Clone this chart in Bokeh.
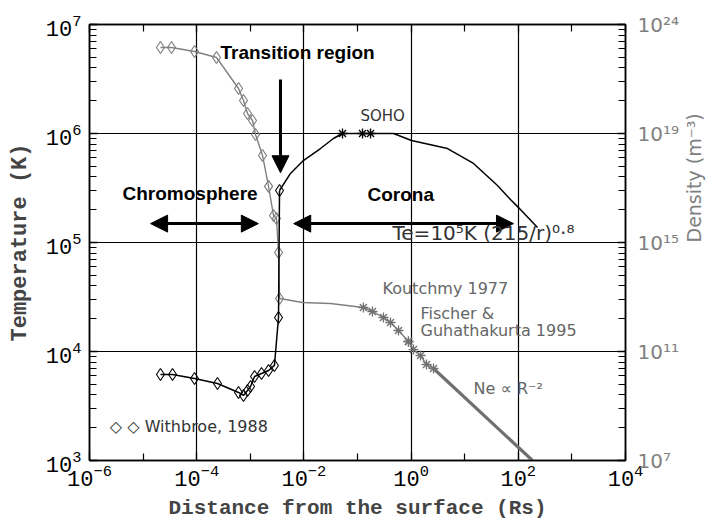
import math
from bokeh.plotting import figure
from bokeh.models import (LogAxis, Range1d, FixedTicker, Label, Arrow, NormalHead, LogScale)
from bokeh.embed import file_html
from bokeh.resources import INLINE

# ---------------- data ----------------
# Withbroe 1988 temperature (diamonds, black)
withbroe_T_r = [2.11e-5, 3.54e-5, 9.1e-5, 2.44e-4, 6.03e-4, 7.46e-4, 8.87e-4, 1.01e-3,
                1.20e-3, 1.62e-3, 2.19e-3, 2.82e-3, 3.36e-3, 3.51e-3]
withbroe_T = [6150, 6150, 5650, 5080, 4210, 3950, 4390, 4780,
              5900, 6280, 6700, 7450, 2.05e4, 3.0e5]
# coronal temperature model Te = 1e5 K (215/r)^0.8 and SOHO
corona_T_r = [3.51e-3, 5.62e-3, 9.77e-3, 0.0204, 0.0355, 0.0525, 0.124, 0.175,
              0.47, 1.02, 4.78, 14.6, 40.9, 71.4, 101, 228]
corona_T = [3.0e5, 4.3e5, 5.65e5, 7.28e5, 9.0e5, 1.0e6, 1.0e6, 1.0e6,
            1.0e6, 8.63e5, 7.28e5, 5.31e5, 3.33e5, 2.48e5, 2.09e5, 1.37e5]
soho_r = [0.0525, 0.124, 0.175]
soho_T = [1.0e6, 1.0e6, 1.0e6]

# Withbroe 1988 density (diamonds, grey), m^-3
withbroe_n_r = [2.11e-5, 3.39e-5, 9.1e-5, 2.34e-4, 6.03e-4, 7.46e-4, 8.87e-4, 1.10e-3,
                1.25e-3, 1.69e-3, 2.19e-3, 2.71e-3, 3.08e-3, 3.36e-3, 3.51e-3]
withbroe_n = [1.43e22, 1.43e22, 1.02e22, 6.15e21, 4.48e20, 1.63e20, 5.42e19, 3.0e19,
              9.2e18, 1.56e18, 1.14e17, 9.8e15, 7.6e15, 4.3e14, 8.8e12]
# coronal density
corona_n_r = [3.51e-3, 9.42e-3, 0.0313, 0.129]
corona_n = [8.8e12, 6.28e12, 5.77e12, 4.12e12]
koutchmy_r = [0.129, 0.19, 0.305, 0.413, 0.582, 0.893]
koutchmy_n = [4.12e12, 2.94e12, 1.77e12, 1.16e12, 5.9e11, 2.33e11]
fischer_r = [0.893, 1.11, 1.50, 1.94, 2.62]
fischer_n = [2.33e11, 1.18e11, 7.13e10, 3.33e10, 2.38e10]
ne_r2_r = [2.62, 184]
ne_r2_n = [2.38e10, 1.0e7]

x_ticks = [1e-6, 1e-4, 1e-2, 1, 1e2, 1e4]
x_minor = [1e-5, 1e-3, 1e-1, 1e1, 1e3]
y_ticks = [1e3, 1e4, 1e5, 1e6, 1e7]
y_minor = [k * 10.0 ** d for d in range(3, 7) for k in range(2, 10)]
dens_ticks = [1e7, 1e11, 1e15, 1e19, 1e23]
dens_labels = ["10\u2077", "10\u00b9\u00b9", "10\u00b9\u2075", "10\u00b9\u2079", "10\u00b2\u2074"]

MONO = "Liberation Mono"
SANS = "Liberation Sans"
GREY = "#808080"

p = figure(width=722, height=522, x_axis_type="log", y_axis_type="log",
           x_range=Range1d(1e-6, 1e4), y_range=Range1d(1e3, 1e7),
           output_backend="svg", toolbar_location=None,
           min_border_left=89, min_border_right=97, min_border_top=24, min_border_bottom=62)
p.extra_y_ranges = {"dens": Range1d(1e7, 1e23)}
p.extra_y_scales = {"dens": LogScale()}

p.outline_line_color = "black"
p.outline_line_width = 1.5
p.background_fill_color = "white"

# grids
p.xgrid.ticker = FixedTicker(ticks=[1e-4, 1e-2, 1, 1e2])
p.ygrid.ticker = FixedTicker(ticks=[1e4, 1e5, 1e6])
p.grid.grid_line_color = "black"
p.grid.grid_line_width = 1.2
p.grid.grid_line_alpha = 1.0

def style_ticks(ax):
    ax.major_tick_in = 8
    ax.major_tick_out = 0
    ax.minor_tick_in = 7
    ax.minor_tick_out = 0
    ax.axis_line_color = "black"
    ax.axis_line_width = 1.5
    ax.major_tick_line_width = 1.3
    ax.minor_tick_line_width = 1.2

def hide_labels(ax):
    ax.major_label_text_font_size = "2px"
    ax.major_label_text_alpha = 0.0
    ax.major_label_standoff = 0

# bottom axis
xa = p.xaxis[0]
xa.ticker = FixedTicker(ticks=x_ticks, minor_ticks=x_minor)
style_ticks(xa)
xa.major_label_text_font = MONO
xa.major_label_text_font_size = "22px"
xa.major_label_text_color = "black"
xa.major_label_standoff = 3
xa.axis_label = "Distance from the surface (Rs)"
xa.axis_label_text_font = MONO
xa.axis_label_text_font_style = "bold"
xa.axis_label_text_font_size = "21px"
xa.axis_label_standoff = 8

# left axis
ya = p.yaxis[0]
ya.ticker = FixedTicker(ticks=y_ticks, minor_ticks=y_minor)
style_ticks(ya)
ya.major_label_text_font = MONO
ya.major_label_text_font_size = "22px"
ya.major_label_text_color = "black"
ya.major_label_standoff = 8
ya.axis_label = "Temperature (K)"
ya.axis_label_text_font = MONO
ya.axis_label_text_font_style = "bold"
ya.axis_label_text_font_size = "22px"
ya.axis_label_standoff = 10

# top axis (ticks only)
top = LogAxis(ticker=FixedTicker(ticks=x_ticks, minor_ticks=x_minor))
style_ticks(top)
hide_labels(top)
p.add_layout(top, "above")

# right axis with temperature ticks (no labels)
r1 = LogAxis(ticker=FixedTicker(ticks=y_ticks, minor_ticks=y_minor))
style_ticks(r1)
hide_labels(r1)
p.add_layout(r1, "right")

# right density axis (labels only)
r2 = LogAxis(y_range_name="dens", ticker=FixedTicker(ticks=dens_ticks),
             major_label_overrides=dict(zip(dens_ticks, dens_labels)))
r2.axis_line_color = None
r2.major_tick_in = 0
r2.major_tick_out = 0
r2.minor_tick_in = 0
r2.minor_tick_out = 0
r2.major_label_text_font = "DejaVu Sans"
r2.major_label_text_font_size = "20px"
r2.major_label_text_color = GREY
r2.major_label_standoff = 12
r2.axis_label = "Density (m\u207b\u00b3)"
r2.axis_label_text_font = "DejaVu Sans"
r2.axis_label_text_font_style = "normal"
r2.axis_label_text_font_size = "19px"
r2.axis_label_text_color = GREY
r2.axis_label_standoff = 12
try:
    r2.axis_label_orientation = math.pi / 2
except Exception:
    pass
p.add_layout(r2, "right")

# ---------------- glyphs ----------------
# density (grey)
p.line(withbroe_n_r, withbroe_n, y_range_name="dens", line_color=GREY, line_width=1.4)
p.line(corona_n_r, corona_n, y_range_name="dens", line_color=GREY, line_width=1.4)
p.line(koutchmy_r, koutchmy_n, y_range_name="dens", line_color=GREY, line_width=1.4)
p.line(fischer_r, fischer_n, y_range_name="dens", line_color=GREY, line_width=1.4)
p.line(ne_r2_r, ne_r2_n, y_range_name="dens", line_color="#707070", line_width=3.2)
p.scatter(withbroe_n_r, withbroe_n, y_range_name="dens", marker="diamond", size=12,
          fill_color=None, line_color=GREY, line_width=1.2)
p.scatter(koutchmy_r, koutchmy_n, y_range_name="dens", marker="asterisk", size=10,
          line_color="#707070", line_width=1.3)
p.scatter(fischer_r, fischer_n, y_range_name="dens", marker="asterisk", size=10,
          line_color="#707070", line_width=1.3)

# temperature (black)
p.line(withbroe_T_r, withbroe_T, line_color="black", line_width=1.5)
p.line(corona_T_r, corona_T, line_color="black", line_width=1.5)
p.scatter(withbroe_T_r, withbroe_T, marker="diamond", size=12,
          fill_color=None, line_color="black", line_width=1.1)
p.scatter(soho_r, soho_T, marker="asterisk", size=10, line_color="black", line_width=1.3)

# ---------------- annotations ----------------
def head():
    return NormalHead(size=17, fill_color="black", line_color="black")

p.add_layout(Arrow(end=head(), x_start=10 ** -2.437, y_start=10 ** 6.495,
                   x_end=10 ** -2.437, y_end=10 ** 5.64, line_width=3, line_color="black"))
p.add_layout(Arrow(start=head(), end=head(), x_start=10 ** -4.86, y_start=1.49e5,
                   x_end=10 ** -2.85, y_end=1.49e5, line_width=3, line_color="black"))
p.add_layout(Arrow(start=head(), end=head(), x_start=10 ** -2.19, y_start=1.49e5,
                   x_end=10 ** 1.91, y_end=1.49e5, line_width=3, line_color="black"))

def label(x, y, text, size, font=SANS, style="normal", color="black"):
    p.add_layout(Label(x=x, y=y, text=text, text_font=font, text_font_size=size,
                       text_font_style=style, text_color=color,
                       text_align="left", text_baseline="middle"))

label(10 ** -3.556, 10 ** 6.74, "Transition region", "19px", style="bold")
label(10 ** -5.384, 10 ** 5.45, "Chromosphere", "19px", style="bold")
label(10 ** -0.813, 10 ** 5.44, "Corona", "19px", style="bold")
label(10 ** -0.944, 10 ** 6.165, "SOHO", "15px", font="DejaVu Sans", color="#333333")
label(10 ** -0.347, 10 ** 5.09, "Te=10\u2075K (215/r)\u2070\u00b7\u2078", "20px",
      font="DejaVu Sans", color="#333333")
label(10 ** -0.534, 10 ** 4.578, "Koutchmy 1977", "16px", font="DejaVu Sans", color="#666666")
label(10 ** 0.175, 10 ** 4.35, "Fischer &", "16px", font="DejaVu Sans", color="#666666")
label(10 ** 0.175, 10 ** 4.19, "Guhathakurta 1995", "16px", font="DejaVu Sans", color="#666666")
label(10 ** 1.164, 10 ** 3.66, "Ne \u221d R\u207b\u00b2", "16px", font="DejaVu Sans", color="#666666")
label(10 ** -5.62, 10 ** 3.312, "\u25c7 \u25c7 Withbroe, 1988", "16px", font="DejaVu Sans",
      color="#333333")

open("out.html", "w").write(file_html(p, INLINE))
